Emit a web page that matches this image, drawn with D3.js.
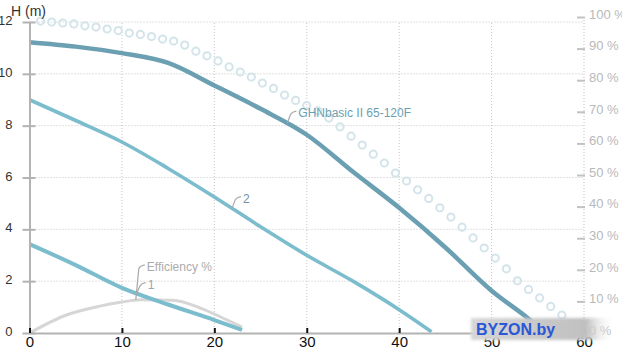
<!DOCTYPE html>
<html>
<head>
<meta charset="utf-8">
<script src="https://cdnjs.cloudflare.com/ajax/libs/d3/7.8.5/d3.min.js"></script>
<style>
  html, body { margin: 0; padding: 0; background: #fff; overflow: hidden; }
  svg { display: block; font-family: "Liberation Sans", Arial, sans-serif; }
</style>
</head>
<body>
<div id="chart"></div>
<script>
// pump curves, flow (m3/h) -> head (m)
var mainFlow = [0, 5, 10, 15, 20, 25, 30, 35, 40, 45, 50, 54, 55.5];
var mainHead = [11.22, 11.05, 10.8, 10.42, 9.55, 8.65, 7.65, 6.22, 4.83, 3.3, 1.63, 0.55, 0.1];
var flow2 = [0, 5, 10, 15, 20, 25, 30, 35, 40, 43.5];
var head2 = [9.0, 8.2, 7.37, 6.35, 5.25, 4.1, 3.0, 2.0, 0.9, 0.05];
var flow1 = [0, 5, 10, 15, 20, 23];
var head1 = [3.43, 2.62, 1.74, 1.1, 0.5, 0.12];
// efficiency % (right axis)
var effFlow = [0, 4, 7.6, 10, 12, 15.5, 18.5, 21.4, 23];
var effPct = [0, 5.7, 8.5, 9.8, 10.5, 10.4, 7.9, 4.1, 1.9];
// dotted series (right axis)
var dotFlow = [1.2, 2.4, 3.6, 4.8, 6, 7.2, 8.4, 9.6, 10.8, 12, 13.2, 14.4, 15.6, 16.8, 18, 19.2, 20.4, 21.6, 22.8, 24,
  25.2, 26.4, 27.6, 28.8, 30, 31.2, 32.4, 33.6, 34.8, 36, 37.2, 38.4, 39.6, 40.8, 42, 43.2, 44.4, 45.6, 46.8, 48,
  49.2, 50.4, 51.6, 52.8, 54, 55.2, 56.4, 57.6, 58.8];
var dotPct = [98.7, 98.4, 98.1, 97.8, 97.2, 96.8, 96.2, 95.7, 94.9, 94.5, 93.8, 93.0, 92.4, 91.1, 89.2, 87.7, 86.1, 84.2, 82.6, 81.0,
  79.1, 77.4, 75.3, 73.6, 72.0, 70.3, 68.0, 65.2, 62.3, 59.5, 56.6, 53.8, 50.6, 48.1, 45.3, 42.6, 39.6, 36.7, 33.5, 30.1,
  26.9, 23.7, 20.3, 16.5, 13.8, 11.1, 8.4, 5.7, 2.9];

var xTicks = [0, 10, 20, 30, 40, 50, 60];
var hTicks = [0, 2, 4, 6, 8, 10, 12];
var pctTicks = [0, 10, 20, 30, 40, 50, 60, 70, 80, 90, 100];

var width = 622, height = 351;
var mainColor = "#6b9fb2", lightColor = "#7bbccd";

var svg = d3.select("#chart").append("svg")
  .attr("width", width)
  .attr("height", height);

var x = d3.scaleLinear().domain([0, 60]).range([29.5, 584]);
var y = d3.scaleLinear().domain([0, 12]).range([333, 22]);
var yr = d3.scaleLinear().domain([0, 100]).range([333, 17]);

function zip(a, b) { return a.map(function (v, i) { return [v, b[i]]; }); }

// grid
var grid = svg.append("g");
grid.selectAll(".hg").data(hTicks.slice(1)).enter().append("line")
  .attr("x1", x(0)).attr("x2", x(60))
  .attr("y1", function (d) { return y(d); }).attr("y2", function (d) { return y(d); })
  .attr("stroke", "#c4c4c4").attr("stroke-dasharray", "1,2");
grid.selectAll(".vg").data(xTicks.slice(1, -1)).enter().append("line")
  .attr("y1", y(0)).attr("y2", y(12))
  .attr("x1", function (d) { return x(d); }).attr("x2", function (d) { return x(d); })
  .attr("stroke", "#c4c4c4").attr("stroke-dasharray", "1,2");
// right axis dotted line
svg.append("line")
  .attr("x1", x(60)).attr("x2", x(60)).attr("y1", yr(100)).attr("y2", y(0))
  .attr("stroke", "#bdbdbd").attr("stroke-dasharray", "1,2");

var lineH = d3.line().x(function (d) { return x(d[0]); }).y(function (d) { return y(d[1]); }).curve(d3.curveMonotoneX);
var linePct = d3.line().x(function (d) { return x(d[0]); }).y(function (d) { return yr(d[1]); }).curve(d3.curveMonotoneX);

// efficiency
svg.append("path").datum(zip(effFlow, effPct))
  .attr("d", linePct).attr("fill", "none")
  .attr("stroke", "#d6d6d6").attr("stroke-width", 3);

// dots
svg.append("g").selectAll("circle").data(zip(dotFlow, dotPct)).enter().append("circle")
  .attr("cx", function (d) { return x(d[0]); })
  .attr("cy", function (d) { return yr(d[1]); })
  .attr("r", 3.6)
  .attr("fill", "none")
  .attr("stroke", "#d3e4ea")
  .attr("stroke-width", 2);

// head curves
svg.append("path").datum(zip(flow1, head1))
  .attr("d", lineH).attr("fill", "none").attr("stroke", lightColor).attr("stroke-width", 4);
svg.append("path").datum(zip(flow2, head2))
  .attr("d", lineH).attr("fill", "none").attr("stroke", lightColor).attr("stroke-width", 3.6);
svg.append("path").datum(zip(mainFlow, mainHead))
  .attr("d", lineH).attr("fill", "none").attr("stroke", mainColor).attr("stroke-width", 4.5);

// curve labels with small leaders
var labels = [
  {text: "GHNbasic II 65-120F", fx: 27.9, fy: 8.1, right: false, color: "#6b9fb2"},
  {text: "2", fx: 21.9, fy: 4.8, right: false, color: "#6f93a6"},
  {text: "1", fx: 11.6, fy: 1.52, right: false, color: "#8fa9b5"},
  {text: "Efficiency %", fx: 11.5, fy: 10.5, right: true, color: "#ababab"}
];
labels.forEach(function (l) {
  var ax = x(l.fx), ay = l.right ? yr(l.fy) : y(l.fy);
  var up = l.right ? 33 : (l.text == "1" ? 9 : 10);
  var p = d3.path();
  p.moveTo(ax, ay);
  p.lineTo(ax + 3, ay - up + 2);
  p.quadraticCurveTo(ax + 4, ay - up - 1, ax + 9, ay - up - 2);
  svg.append("path").attr("d", p.toString())
    .attr("fill", "none").attr("stroke", "#a8a8a8").attr("stroke-width", 1.2);
  svg.append("text")
    .attr("x", ax + 11).attr("y", ay - up + 4)
    .attr("font-size", 12).attr("fill", l.color)
    .text(l.text);
});

// left axis
var yAxis = svg.append("g").attr("transform", "translate(" + x(0) + ",0)")
  .call(d3.axisLeft(y).tickValues(hTicks).tickSize(7).tickSizeOuter(0).tickPadding(10));
yAxis.select(".domain").attr("stroke", "#b3b3b3").attr("stroke-width", 2);
yAxis.selectAll(".tick line").attr("x1", -7).attr("x2", 6).attr("stroke", "#b3b3b3").attr("stroke-width", 2);
yAxis.selectAll(".tick text").attr("dy", "0.2em").attr("font-size", 13).attr("fill", "#333")
  .attr("font-family", "Liberation Sans, Arial, sans-serif");

svg.append("text").attr("x", 11).attr("y", 16)
  .attr("font-size", 14).attr("fill", "#333").text("H (m)");

// bottom axis
var xAxis = svg.append("g").attr("transform", "translate(0," + y(0) + ")")
  .call(d3.axisBottom(x).tickValues(xTicks).tickSize(-5).tickSizeOuter(0).tickPadding(3.5));
xAxis.select(".domain").attr("stroke", "#b3b3b3").attr("stroke-width", 2);
xAxis.selectAll(".tick line").attr("stroke", "#111").attr("stroke-width", 2);
xAxis.selectAll(".tick text").attr("font-size", 15).attr("fill", "#111")
  .attr("font-family", "Liberation Sans, Arial, sans-serif");

// right axis (percent)
var rAxis = svg.append("g").attr("transform", "translate(" + x(60) + ",0)")
  .call(d3.axisRight(yr).tickValues(pctTicks).tickSize(0).tickPadding(5).tickFormat(function (d) { return d + " %"; }));
rAxis.select(".domain").remove();
rAxis.selectAll(".tick line").attr("x1", -7).attr("x2", 1).attr("stroke", "#c2c2c2").attr("stroke-width", 2);
rAxis.selectAll(".tick text").attr("dy", "0.1em").attr("font-size", 13).attr("fill", "#b9b9b9")
  .attr("font-family", "Liberation Sans, Arial, sans-serif");

// watermark
var defs = svg.append("defs");
var grad = defs.append("linearGradient").attr("id", "wm");
grad.append("stop").attr("offset", "0").attr("stop-color", "#d6d6d6");
grad.append("stop").attr("offset", "0.55").attr("stop-color", "#c6c6c6");
grad.append("stop").attr("offset", "0.8").attr("stop-color", "#c0c0c0");
grad.append("stop").attr("offset", "1").attr("stop-color", "#ffffff").attr("stop-opacity", 0);
defs.append("filter").attr("id", "blur").append("feGaussianBlur").attr("stdDeviation", 1.5);
svg.append("rect").attr("x", 471).attr("y", 318).attr("width", 144).attr("height", 22)
  .attr("fill", "url(#wm)").attr("filter", "url(#blur)");
svg.append("text").attr("x", 476).attr("y", 335)
  .attr("font-size", 16).attr("font-weight", "bold").attr("fill", "#2b56d6")
  .text("BYZON.by");
</script>
</body>
</html>
